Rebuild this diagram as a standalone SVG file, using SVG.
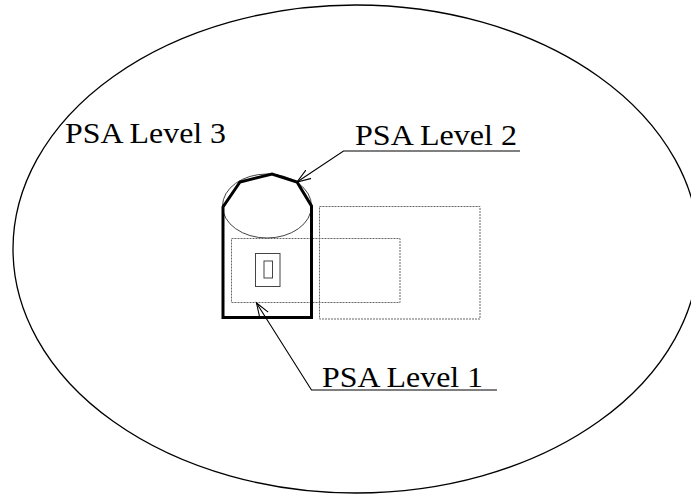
<svg xmlns="http://www.w3.org/2000/svg" width="691" height="495" viewBox="0 0 691 495">
<style>
.lbl{font-family:"Liberation Serif","Times New Roman",serif;font-size:30px;fill:#000}
.dot{fill:none;stroke:#666;stroke-width:1;stroke-dasharray:2 1}
.thin{fill:none;stroke:#444;stroke-width:1}
.lead{fill:none;stroke:#000;stroke-width:1.1}
</style>
<defs>
<marker id="open" markerUnits="userSpaceOnUse" markerWidth="16" markerHeight="12" viewBox="0 0 16 12" refX="14" refY="6" orient="auto-start-reverse">
<path d="M0,1 L14,6 L0,11" fill="none" stroke="#000" stroke-width="1.1"/>
</marker>
</defs>
<rect width="691" height="495" fill="#fff"/>
<g id="level3">
<ellipse cx="356" cy="249" rx="343" ry="244" fill="none" stroke="#000" stroke-width="1.3"/>
<text class="lbl" x="65" y="143" textLength="161" lengthAdjust="spacingAndGlyphs">PSA Level 3</text>
</g>
<g id="building2">
<rect class="dot" x="319.5" y="206.5" width="160.5" height="112.5"/>
</g>
<g id="level1">
<rect class="dot" x="231.5" y="238.5" width="168.5" height="64"/>
<rect class="thin" x="255.5" y="253.5" width="24.5" height="33"/>
<rect class="thin" x="264" y="261" width="8.5" height="17"/>
</g>
<g id="level2">
<ellipse class="thin" cx="267" cy="206" rx="44.5" ry="32" stroke="#555"/>
<polygon points="223,317.5 223,207 240,182 272,174 297,182 311.5,206 311.5,317.5" fill="none" stroke="#000" stroke-width="3" stroke-linejoin="miter"/>
</g>
<g id="connectors">
<polyline class="lead" points="297,182 343.5,151 520,151" marker-start="url(#open)"/>
<polyline class="lead" points="256.5,303 311.5,390 497,390" marker-start="url(#open)"/>
</g>
<g id="labels">
<text class="lbl" x="355" y="145" textLength="162" lengthAdjust="spacingAndGlyphs">PSA Level 2</text>
<text class="lbl" x="322" y="387" textLength="161" lengthAdjust="spacingAndGlyphs">PSA Level 1</text>
</g>
</svg>
